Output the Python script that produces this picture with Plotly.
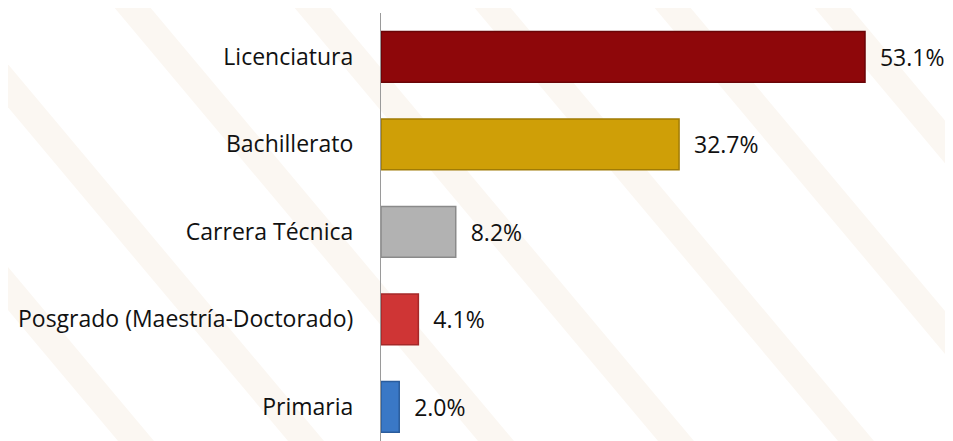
import plotly.graph_objects as go

categories = ["Primaria", "Posgrado (Maestría-Doctorado)", "Carrera Técnica", "Bachillerato", "Licenciatura"]
values = [2.0, 4.1, 8.2, 32.7, 53.1]
bar_colors = ["#3A78C6", "#CF3535", "#B2B2B2", "#CF9F07", "#8E070A"]
edge_colors = ["#2A5C9C", "#A52828", "#8A8A8A", "#A07B05", "#6A0507"]
value_labels = ["\u00a0\u00a0%.1f%%" % v for v in values]

# page body has an 8px default margin; size the figure to fill the window
OFF = 8
W, H = 953 - OFF, 441 - OFF
left = 381 - OFF
top = 13 - OFF
px_per_unit = 9.115
cat_px = 87.5
plot_w = W - left
plot_h = H - top

fig = go.Figure()
fig.add_trace(go.Bar(
    y=categories, x=values, orientation="h",
    marker=dict(color=bar_colors, line=dict(color=edge_colors, width=1.5)),
    text=value_labels, textposition="outside", cliponaxis=False,
    constraintext="none",
    textfont=dict(family="Open Sans", size=23, color="#111111"),
    hoverinfo="skip",
))

def band(x0, w, dx=370):
    pts = [(x0, -OFF), (x0 + w, -OFF), (x0 + w + dx, H), (x0 + dx, H)]
    def px(p):
        return ((p[0] - left) / plot_w, 1 - (p[1] - top) / plot_h)
    cs = [px(p) for p in pts]
    path = "M %f %f L %f %f L %f %f L %f %f Z" % (cs[0] + cs[1] + cs[2] + cs[3])
    return dict(type="path", xref="paper", yref="paper", layer="below",
                path=path, fillcolor="#FBF7F2", line=dict(width=0))

shapes = [band(x0, 36) for x0 in [-260, -90, 100, 280, 460, 640, 800]]

fig.update_layout(
    width=W, height=H,
    margin=dict(l=left, r=0, t=top, b=0, pad=0),
    paper_bgcolor="white", plot_bgcolor="rgba(0,0,0,0)",
    bargap=0.42,
    showlegend=False,
    shapes=shapes,
    xaxis=dict(range=[0, plot_w / px_per_unit], visible=False, fixedrange=True),
    yaxis=dict(
        range=[4.5 - plot_h / cat_px, 4.5],
        showline=True, linecolor="#9A9A9A", linewidth=1.2,
        ticks="", showgrid=False, zeroline=False,
        tickfont=dict(family="Open Sans", size=23, color="#111111"),
        ticklabelstandoff=22,
    ),
)

fig.write_html("out.html")
